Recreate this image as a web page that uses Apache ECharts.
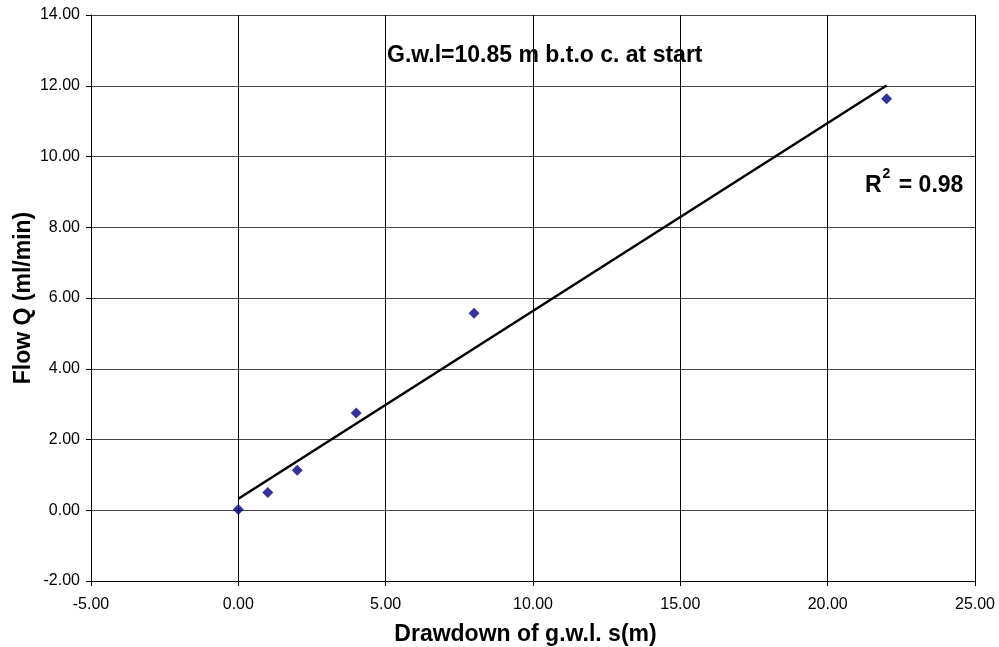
<!DOCTYPE html>
<html>
<head>
<meta charset="utf-8">
<script src="https://cdn.jsdelivr.net/npm/echarts@6/dist/echarts.min.js"></script>
<style>
  html, body { margin: 0; padding: 0; background: #fff; }
  #chart { width: 999px; height: 647px; }
</style>
</head>
<body>
<div id="chart"></div>
<script>
// Drawdown s (m) and measured flow Q (ml/min)
const drawdown = [0, 1, 2, 4, 8, 22];
const flow = [0.02, 0.50, 1.13, 2.75, 5.57, 11.63];

// Axis ranges / ticks
const xTicks = { min: -5, max: 25, step: 5 };
const yTicks = { min: -2, max: 14, step: 2 };

const titleText = 'G.w.l=10.85 m b.t.o c. at start';
const xName = 'Drawdown of g.w.l. s(m)';
const yName = 'Flow Q (ml/min)';

// Least-squares linear trendline and its R²
const n = drawdown.length;
const mx = drawdown.reduce((a, b) => a + b, 0) / n;
const my = flow.reduce((a, b) => a + b, 0) / n;
let sxy = 0, sxx = 0, syy = 0;
for (let i = 0; i < n; i++) {
  sxy += (drawdown[i] - mx) * (flow[i] - my);
  sxx += (drawdown[i] - mx) ** 2;
  syy += (flow[i] - my) ** 2;
}
const slope = sxy / sxx;
const intercept = my - slope * mx;
const r2 = (sxy * sxy) / (sxx * syy);
const xStart = Math.min(...drawdown), xEnd = Math.max(...drawdown);
const trend = [[xStart, intercept + slope * xStart], [xEnd, intercept + slope * xEnd]];

const chart = echarts.init(document.getElementById('chart'));
const fmt = v => v.toFixed(2);
const boldFont = 'bold 23px "Liberation Sans", Arial, sans-serif';

chart.setOption({
  animation: false,
  backgroundColor: '#fff',
  textStyle: { fontFamily: 'Liberation Sans, Arial, sans-serif' },
  grid: { left: 91, right: 24, top: 15, bottom: 66, containLabel: false, outerBoundsMode: 'none' },
  xAxis: {
    type: 'value',
    min: xTicks.min, max: xTicks.max, interval: xTicks.step,
    name: xName,
    nameLocation: 'middle',
    nameGap: 42,
    nameTextStyle: { fontSize: 23, fontWeight: 'bold', color: '#000', padding: [0, 15, 0, 0] },
    axisLine: { onZero: false, lineStyle: { color: '#000', width: 1 } },
    axisTick: { show: true, length: 5, lineStyle: { color: '#000' } },
    axisLabel: { formatter: fmt, fontSize: 16, color: '#000', margin: 16 },
    splitLine: { show: true, lineStyle: { color: '#000', width: 1 } }
  },
  yAxis: {
    type: 'value',
    min: yTicks.min, max: yTicks.max, interval: yTicks.step,
    name: yName,
    nameLocation: 'middle',
    nameGap: 56,
    nameMoveOverlap: false,
    nameTextStyle: { fontSize: 23, fontWeight: 'bold', color: '#000' },
    axisLine: { onZero: false, lineStyle: { color: '#000', width: 1 } },
    axisTick: { show: true, length: 5, lineStyle: { color: '#000' } },
    axisLabel: { formatter: fmt, fontSize: 16, color: '#000', margin: 11 },
    splitLine: { show: true, lineStyle: { color: '#444', width: 1 } }
  },
  series: [
    {
      name: 'Measured',
      type: 'scatter',
      symbol: 'diamond',
      symbolSize: 11,
      itemStyle: { color: '#000080' },
      data: drawdown.map((x, i) => [x, flow[i]]),
      z: 3
    },
    {
      name: 'Linear trend',
      type: 'line',
      data: trend,
      showSymbol: false,
      symbol: 'none',
      lineStyle: { color: '#000', width: 2.5 },
      z: 2
    }
  ],
  graphic: [
    {
      type: 'text',
      left: 387, top: 44,
      style: { text: titleText, font: boldFont, fill: '#000' }
    },
    {
      type: 'text',
      left: 865, top: 167,
      style: {
        text: '{b|R}{s|2}{b| = ' + r2.toFixed(2) + '}',
        rich: {
          b: { font: boldFont, fill: '#000', verticalAlign: 'bottom', lineHeight: 30 },
          s: { font: 'bold 14px "Liberation Sans", Arial, sans-serif', fill: '#000', verticalAlign: 'top', lineHeight: 30, padding: [0, 2, 0, 1] }
        }
      }
    }
  ]
});
</script>
</body>
</html>
